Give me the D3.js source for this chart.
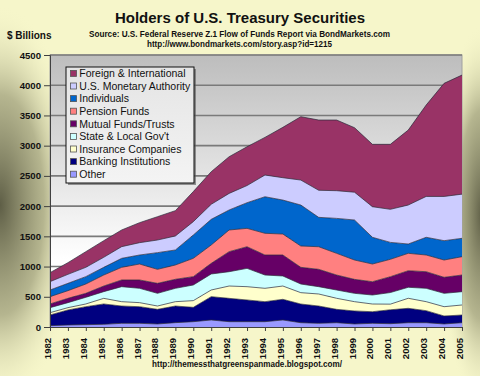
<!DOCTYPE html>
<html><head><meta charset="utf-8">
<script src="https://cdn.jsdelivr.net/npm/d3@7"></script>
<style>html,body{margin:0;padding:0;background:#f6f6ca;}svg{display:block;font-family:"Liberation Sans",Arial,sans-serif;}</style>
</head><body><svg id="c" width="480" height="376"></svg>
<script>
const years = ["1982","1983","1984","1985","1986","1987","1988","1989","1990","1991","1992","1993","1994","1995","1996","1997","1998","1999","2000","2001","2002","2003","2004","2005"];
const other       = [22,33,39,44,61,61,50,72,88,116,88,88,88,116,71,61,71,50,61,55,71,71,50,71];
const banking     = [177,248,297,337,286,275,242,275,237,386,386,359,331,342,309,286,221,215,192,230,238,199,132,127];
const insurance   = [38,39,45,93,72,67,55,72,111,110,204,220,221,220,188,199,183,154,127,93,166,149,154,166];
const stateLocal  = [83,83,110,111,248,237,210,221,259,265,237,303,220,166,143,121,137,138,149,192,182,221,221,220];
const mutualFunds = [61,71,66,93,111,138,165,149,138,176,331,358,331,347,276,287,248,231,220,262,274,275,265,276];
const pension     = [121,127,154,182,209,264,232,237,303,304,359,304,359,347,353,374,359,320,293,288,288,276,286,303];
const individuals = [110,121,122,127,149,149,276,248,386,424,331,424,605,562,678,486,578,662,442,280,154,293,320,304];
const monetary    = [138,149,154,166,193,204,209,232,221,249,274,284,359,370,413,448,458,460,506,547,645,676,732,731];
const foreign     = [149,193,259,275,276,331,386,419,497,539,607,642,623,833,1048,1162,1169,1067,1032,1075,1240,1512,1871,1970];
const yTicks = [0,500,1000,1500,2000,2500,3000,3500,4000,4500];

const seriesNames = ["Other","Banking Institutions","Insurance Companies","State & Local Gov't","Mutual Funds/Trusts","Pension Funds","Individuals","U.S. Monetary Authority","Foreign & International"];
const seriesData = [other,banking,insurance,stateLocal,mutualFunds,pension,individuals,monetary,foreign];
const colors = ["#9999ff","#000080","#ffffcc","#ccffff","#660066","#ff8080","#0066cc","#ccccff","#993366"];

const svg = d3.select("#c");
const defs = svg.append("defs");

// page background
const bgL = defs.append("radialGradient").attr("id","bgL");
bgL.append("stop").attr("offset","0").attr("stop-color","#5e5e46").attr("stop-opacity",1);
bgL.append("stop").attr("offset","0.55").attr("stop-color","#8a8a68").attr("stop-opacity",0.6);
bgL.append("stop").attr("offset","1").attr("stop-color","#f6f6ca").attr("stop-opacity",0);
svg.append("rect").attr("width",480).attr("height",376).attr("fill","#f6f6ca");
svg.append("ellipse").attr("cx",0).attr("cy",205).attr("rx",80).attr("ry",200).attr("fill","url(#bgL)");
svg.append("ellipse").attr("cx",482).attr("cy",215).attr("rx",45).attr("ry",190).attr("fill","url(#bgL)");

const L = 50, R = 462, T = 55, B = 327;
const x = d3.scalePoint().domain(years).range([L,R]);
const y = d3.scaleLinear().domain([0,4500]).range([B,T]);

// plot background
const pg = defs.append("linearGradient").attr("id","pg").attr("x1",0).attr("y1",0).attr("x2",0).attr("y2",1);
pg.append("stop").attr("offset","0").attr("stop-color","#bdbdbd");
pg.append("stop").attr("offset","0.75").attr("stop-color","#ffffff");
pg.append("stop").attr("offset","1").attr("stop-color","#ffffff");
svg.append("rect").attr("x",L).attr("y",T).attr("width",R-L).attr("height",B-T).attr("fill","url(#pg)").attr("stroke","#a0a0a0").attr("stroke-width",1);

// gridlines
svg.append("g").selectAll("line").data(yTicks.slice(1)).join("line")
  .attr("x1",L).attr("x2",R).attr("y1",d=>y(d)).attr("y2",d=>y(d))
  .attr("stroke","#7a7a7a").attr("stroke-width",1.6);

// stacked areas
const table = years.map((yr,i)=>{const o={year:yr}; seriesNames.forEach((n,k)=>o[n]=seriesData[k][i]); return o;});
const stack = d3.stack().keys(seriesNames)(table);
const area = d3.area().x(d=>x(d.data.year)).y0(d=>y(d[0])).y1(d=>y(d[1]));
const line = d3.line().x(d=>x(d.data.year)).y(d=>y(d[1]));
svg.append("g").selectAll("path").data(stack).join("path")
  .attr("d",area).attr("fill",(d,i)=>colors[i]);
svg.append("g").selectAll("path").data(stack).join("path")
  .attr("d",line).attr("fill","none").attr("stroke","#2a2a3a").attr("stroke-width",0.7);

// axes
const yAxis = svg.append("g").attr("transform",`translate(${L},0)`)
  .call(d3.axisLeft(y).tickValues(yTicks).tickSize(6).tickPadding(3).tickFormat(d3.format("d")));
yAxis.select(".domain").attr("stroke","#404040");
yAxis.selectAll(".tick line").attr("stroke","#404040");
yAxis.selectAll("text").attr("font-size","9.6px").attr("font-weight","bold").attr("fill","#111").attr("font-family","Liberation Sans, Arial");

const xAxis = svg.append("g").attr("transform",`translate(0,${B})`)
  .call(d3.axisBottom(x).tickSize(4).tickSizeOuter(0));
xAxis.select(".domain").attr("stroke","#404040");
xAxis.selectAll(".tick line").attr("stroke","#404040");
xAxis.selectAll("text").attr("font-size","9.5px").attr("font-weight","bold").attr("fill","#111")
  .attr("font-family","Liberation Sans, Arial")
  .attr("text-anchor","end").attr("dy",null).attr("y",null)
  .attr("transform","translate(0.5,11) rotate(-90)");

// titles
svg.append("text").attr("x",240).attr("y",23).attr("text-anchor","middle").attr("font-size","15px").attr("font-weight","bold").attr("fill","#111").text("Holders of U.S. Treasury Securities");
svg.append("text").attr("x",89).attr("y",36.5).attr("textLength",301).attr("lengthAdjust","spacingAndGlyphs").attr("font-size","8.6px").attr("font-weight","bold").attr("fill","#111").text("Source: U.S. Federal Reserve Z.1 Flow of Funds Report via BondMarkets.com");
svg.append("text").attr("x",147).attr("y",46.5).attr("textLength",185).attr("lengthAdjust","spacingAndGlyphs").attr("font-size","8.6px").attr("font-weight","bold").attr("fill","#111").text("http://www.bondmarkets.com/story.asp?id=1215");
svg.append("text").attr("x",7).attr("y",38.5).attr("font-size","10px").attr("font-weight","bold").attr("fill","#111").text("$ Billions");
svg.append("text").attr("x",152).attr("y",367).attr("textLength",190).attr("lengthAdjust","spacingAndGlyphs").attr("font-size","8.6px").attr("font-weight","bold").attr("fill","#111").text("http://themessthatgreenspanmade.blogspot.com/");

// legend
const lg = defs.append("linearGradient").attr("id","lg").attr("x1",0).attr("y1",0).attr("x2",0).attr("y2",1);
lg.append("stop").attr("offset","0").attr("stop-color","#e4e4e4");
lg.append("stop").attr("offset","1").attr("stop-color","#f4f4f4");
const leg = svg.append("g");
leg.append("rect").attr("x",68).attr("y",69).attr("width",128).attr("height",116).attr("fill","#555").attr("opacity",0.6);
leg.append("rect").attr("x",66).attr("y",67).attr("width",128).attr("height",116).attr("fill","url(#lg)").attr("stroke","#111").attr("stroke-width",1);
const legendOrder = seriesNames.map((n,i)=>i).reverse();
legendOrder.forEach((k,j)=>{
  const cy = 73.4 + j*12.6;
  leg.append("rect").attr("x",70.5).attr("y",cy-3).attr("width",6).attr("height",6).attr("fill",colors[k]).attr("stroke","#555").attr("stroke-width",0.8);
  leg.append("text").attr("x",79.3).attr("y",cy+3.8).attr("font-size","10.5px").attr("fill","#111").text(seriesNames[k]);
});
</script></body></html>
